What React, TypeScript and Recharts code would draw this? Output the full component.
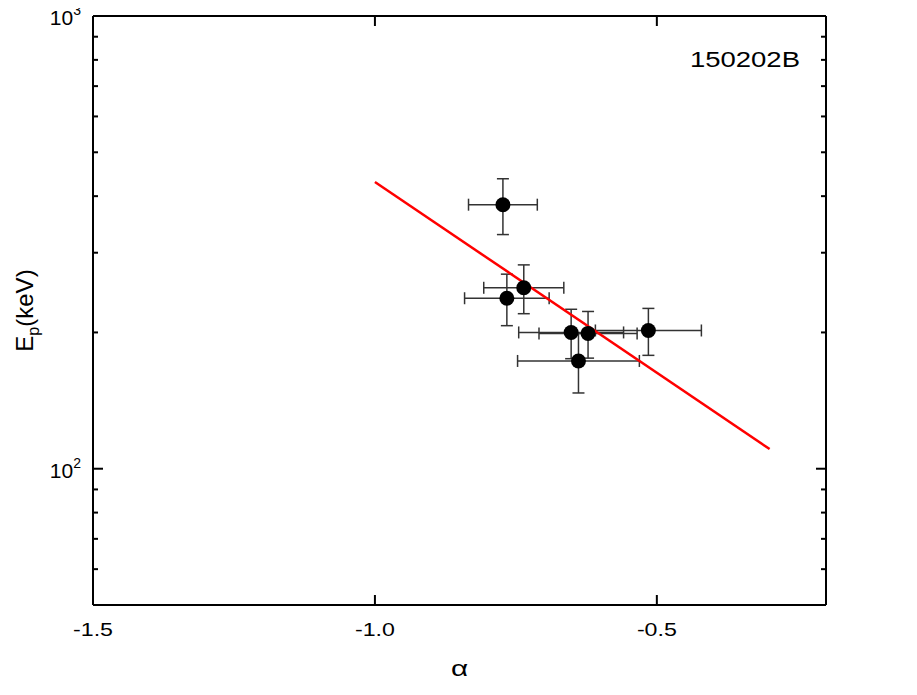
import React from 'react';
import { ScatterChart, Scatter, XAxis, YAxis, ErrorBar, Label } from 'recharts';

// alpha vs Ep (keV), with 1-sigma errors
const alpha = [-0.773, -0.736, -0.766, -0.652, -0.622, -0.639, -0.515];
const alphaErr = [0.061, 0.071, 0.075, 0.093, 0.087, 0.108, 0.094];
const ep = [383, 251, 238, 200, 199, 173, 202];
const epErr = [54, 31, 31, 25, 23.5, 26, 24];

// red fit line end points
const fitAlpha = [-1.0, -0.3];
const fitEp = [430, 110.5];

const xTicks = [-1.5, -1.0, -0.5];
const yTicks = [60, 70, 80, 90, 100, 200, 300, 400, 500, 600, 700, 800, 900, 1000];
const yMajor = [100, 1000];

const points = alpha.map((a, i) => ({ a, ep: ep[i], aErr: alphaErr[i], epErr: epErr[i] }));
const fit = fitAlpha.map((a, i) => ({ a, ep: fitEp[i] }));

const FONT = '"Liberation Sans", Arial, Helvetica, sans-serif';

const XTick = (props: any) => {
  const { x, y, payload, side } = props;
  const top = side === 'top';
  const corner = payload.value === -1.5;
  return (
    <g>
      {!corner && (
        <line x1={x} x2={x} y1={y} y2={top ? y + 10 : y - 10} stroke="#000" strokeWidth={2} />
      )}
      {!top && (
        <text
          transform={`translate(${x}, ${y + 31}) scale(1.22, 1)`}
          textAnchor="middle"
          fontSize={19}
          fontFamily={FONT}
          fill="#000"
        >
          {payload.value.toFixed(1)}
        </text>
      )}
    </g>
  );
};

const YTick = (props: any) => {
  const { x, y, payload, side } = props;
  const left = side === 'left';
  const major = yMajor.includes(payload.value);
  const len = major ? 10 : 5;
  const exp = Math.round(Math.log10(payload.value));
  return (
    <g>
      <line x1={x} x2={left ? x + len : x - len} y1={y} y2={y} stroke="#000" strokeWidth={2} />
      {left && major && (
        <text x={x - 12} y={y + 9} textAnchor="end" fontSize={21} fontFamily={FONT} fill="#000">
          10
          <tspan fontSize={14} dy={-10}>{exp}</tspan>
        </text>
      )}
    </g>
  );
};

const Dot = (props: any) => <circle cx={props.cx} cy={props.cy} r={7.5} fill="#000" />;
const NoDot = () => <g />;

export default function App() {
  return (
    <div style={{ width: 909, height: 687, margin: '-8px 0 0 -8px', background: '#fff' }}>
      <ScatterChart width={909} height={687} margin={{ top: 0, right: 0, bottom: 22, left: 0 }}>
        <XAxis
          dataKey="a"
          type="number"
          domain={[-1.5, -0.2]}
          allowDataOverflow
          ticks={xTicks}
          interval={0}
          height={60}
          tickSize={0}
          tickMargin={0}
          tickLine={false}
          axisLine={{ stroke: '#000', strokeWidth: 2 }}
          tick={(p: any) => <XTick {...p} side="bottom" />}
        >
          <Label
            content={(p: any) => (
              <text
                transform={`translate(${p.viewBox.x + p.viewBox.width / 2}, ${p.viewBox.y + 71}) scale(1.35, 1)`}
                textAnchor="middle"
                fontSize={22}
                fontFamily={FONT}
                fill="#000"
              >
                α
              </text>
            )}
          />
        </XAxis>
        <XAxis
          xAxisId="top"
          orientation="top"
          dataKey="a"
          type="number"
          domain={[-1.5, -0.2]}
          allowDataOverflow
          ticks={xTicks}
          interval={0}
          height={16}
          tickSize={0}
          tickMargin={0}
          tickLine={false}
          axisLine={{ stroke: '#000', strokeWidth: 2 }}
          tick={(p: any) => <XTick {...p} side="top" />}
        >
          <Label
            content={(p: any) => (
              <text
                transform={`translate(${p.viewBox.x + p.viewBox.width - 26}, ${p.viewBox.y + 67}) scale(1.25, 1)`}
                textAnchor="end"
                fontSize={22}
                fontFamily={FONT}
                fill="#000"
              >
                150202B
              </text>
            )}
          />
        </XAxis>
        <YAxis
          dataKey="ep"
          type="number"
          scale="log"
          domain={[50, 1000]}
          allowDataOverflow
          ticks={yTicks}
          interval={0}
          width={93}
          tickSize={0}
          tickMargin={0}
          tickLine={false}
          axisLine={{ stroke: '#000', strokeWidth: 2 }}
          tick={(p: any) => <YTick {...p} side="left" />}
        >
          <Label
            content={(p: any) => {
              const cx = p.viewBox.x + 33;
              const cy = p.viewBox.y + p.viewBox.height / 2;
              return (
                <text
                  x={cx}
                  y={cy}
                  transform={`rotate(-90, ${cx}, ${cy})`}
                  textAnchor="middle"
                  fontSize={24}
                  fontFamily={FONT}
                  fill="#000"
                >
                  E<tspan fontSize={16} dy={6}>p</tspan>
                  <tspan dy={-6}>(keV)</tspan>
                </text>
              );
            }}
          />
        </YAxis>
        <YAxis
          yAxisId="right"
          orientation="right"
          dataKey="ep"
          type="number"
          scale="log"
          domain={[50, 1000]}
          allowDataOverflow
          ticks={yTicks}
          interval={0}
          width={83}
          tickSize={0}
          tickMargin={0}
          tickLine={false}
          axisLine={{ stroke: '#000', strokeWidth: 2 }}
          tick={(p: any) => <YTick {...p} side="right" />}
        />
        <Scatter
          data={fit}
          xAxisId="top"
          yAxisId="right"
          line={{ stroke: '#ff0000', strokeWidth: 2.5 }}
          shape={NoDot}
          isAnimationActive={false}
        />
        <Scatter data={points} shape={Dot} isAnimationActive={false}>
          <ErrorBar dataKey="aErr" direction="x" width={6} stroke="#333" strokeWidth={1.5} />
          <ErrorBar dataKey="epErr" direction="y" width={6} stroke="#333" strokeWidth={1.5} />
        </Scatter>
      </ScatterChart>
    </div>
  );
}
